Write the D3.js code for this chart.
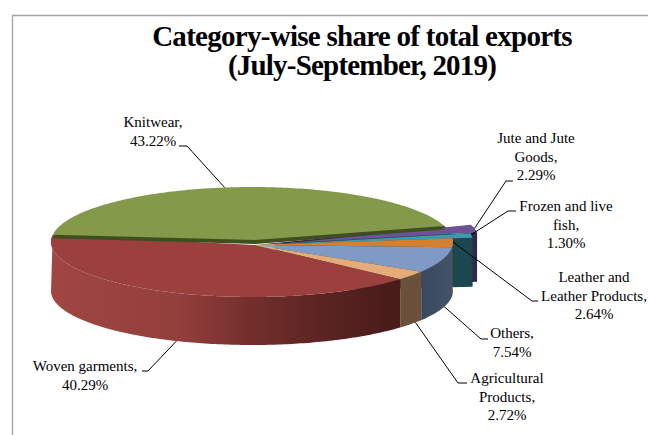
<!DOCTYPE html>
<html>
<head>
<meta charset="utf-8">
<script src="https://cdn.jsdelivr.net/npm/d3@7"></script>
<style>
  html, body { margin: 0; padding: 0; background: #fff; }
  svg { display: block; }
  text { font-family: "Liberation Serif", serif; fill: #000; }
</style>
</head>
<body>
<div id="chart"></div>
<script>
// chart data
var categories = ["Knitwear", "Jute and Jute Goods", "Frozen and live fish", "Leather and Leather Products", "Others", "Agricultural Products", "Woven garments"];
var shares = [43.22, 2.29, 1.30, 2.64, 7.54, 2.72, 40.29];
var shareLabels = ["43.22%", "2.29%", "1.30%", "2.64%", "7.54%", "2.72%", "40.29%"];
var titleLines = ["Category-wise share of total exports", "(July-September, 2019)"];

// how each label wraps
var labelLines = [
  ["Knitwear,", "43.22%"],
  ["Jute and Jute", "Goods,", "2.29%"],
  ["Frozen and live", "fish,", "1.30%"],
  ["Leather and", "Leather Products,", "2.64%"],
  ["Others,", "7.54%"],
  ["Agricultural", "Products,", "2.72%"],
  ["Woven garments,", "40.29%"]
];

// styles per slice
var topColors = ["#84994a", "#6d5395", "#3b9aae", "#d67f2f", "#7f9bc5", "#e5ab78", "#9b403d"];
var wallColors = ["#3d4e20", "#33264a", "#1c4650", "#8a5018", "#3f4f63", "#6b5139", "url(#wovenWall)"];
var explode = [0, 27, 20, 0, 0, 0, 0];

// label layout: x, first baseline, line gap, where the leader leaves the slice
var labelLayout = [
  { x: 153, y: 127, gap: 19, at: 0.48, elbow: [187, 146], end: [179, 146] },
  { x: 536, y: 143, gap: 18.5, at: 0.5, elbow: [506, 181], end: [513, 181] },
  { x: 566, y: 211, gap: 18.5, at: 0.3, elbow: [508, 211], end: [516, 211] },
  { x: 594, y: 282, gap: 18.5, at: 0.42, elbow: [532, 301], end: [538, 301] },
  { x: 512, y: 338, gap: 19, at: 0.42, elbow: [481, 339], end: [488, 339] },
  { x: 507, y: 383, gap: 18.5, at: 0.3, elbow: [458, 383], end: [467, 383] },
  { x: 85, y: 371, gap: 18.5, at: 0.48, elbow: [148, 371], end: [142, 371] }
];

var width = 648, height = 435;

var svg = d3.select("#chart").append("svg")
  .attr("width", width)
  .attr("height", height)
  .attr("viewBox", "0 0 " + width + " " + height);

// chart frame, open at the right and bottom
svg.append("path")
  .attr("d", "M12.5,435V15.5H648")
  .attr("fill", "none")
  .attr("stroke", "#a3a3a3")
  .attr("stroke-width", 1.3);

var defs = svg.append("defs");
var grad = defs.append("linearGradient")
  .attr("id", "wovenWall")
  .attr("gradientUnits", "userSpaceOnUse")
  .attr("x1", 51).attr("x2", 402).attr("y1", 0).attr("y2", 0);
[[0, "#a04643"], [0.36, "#933f3c"], [0.58, "#722e2c"], [0.78, "#5a2422"], [1, "#471b18"]].forEach(function(s) {
  grad.append("stop").attr("offset", s[0]).attr("stop-color", s[1]);
});

var otherGrad = defs.append("linearGradient")
  .attr("id", "othersWall")
  .attr("gradientUnits", "userSpaceOnUse")
  .attr("x1", 425).attr("x2", 452).attr("y1", 0).attr("y2", 0);
otherGrad.append("stop").attr("offset", 0).attr("stop-color", "#3a4a5e");
otherGrad.append("stop").attr("offset", 1).attr("stop-color", "#43546a");

// the tilted disc: unit circle onto the top and bottom ellipses
var xScale = d3.scaleLinear().domain([-1, 1]).range([51, 453]);
var yTop = d3.scaleLinear().domain([-1, 1]).range([187, 297]);
var yBottom = d3.scaleLinear().domain([-1, 1]).range([237, 345]);
var apex = { x: 255, y: 245 };
var apexDepth = 47;

var rotation = -82.5 * Math.PI / 180;
var pie = d3.pie().sort(null).startAngle(rotation).endAngle(rotation + 2 * Math.PI);
var slices = pie(shares);

var line = d3.line().x(function(d) { return d[0]; }).y(function(d) { return d[1]; });

function offsetOf(i, s) {
  var mid = (s.startAngle + s.endAngle) / 2;
  return [explode[i] * Math.sin(mid), -0.2 * explode[i] * Math.cos(mid)];
}

function rim(a, off, scaleY) {
  return [xScale(Math.sin(a)) + off[0], scaleY(-Math.cos(a)) + off[1]];
}

function arcAngles(s) {
  var n = Math.max(2, Math.ceil((s.endAngle - s.startAngle) * 60));
  return d3.range(n + 1).map(function(k) {
    return s.startAngle + (s.endAngle - s.startAngle) * k / n;
  });
}

function topPoints(i, s, apexLift, rimLift) {
  var off = offsetOf(i, s);
  var rimOff = [off[0], off[1] + rimLift];
  return [[apex.x + off[0], apex.y + off[1] + apexLift]].concat(arcAngles(s).map(function(a) { return rim(a, rimOff, yTop); }));
}

// outer rim of a slice, dropped to the bottom ellipse (which stops at its widest point)
function wallPoints(i, s) {
  var off = offsetOf(i, s);
  var angles = arcAngles(s);
  return angles.map(function(a) { return rim(a, off, yTop); })
    .concat(angles.slice().reverse().map(function(a) { return rim(Math.min(a, 1.5 * Math.PI), off, yBottom); }));
}

// cut face at the clockwise end of a pulled-out slice
function facePoints(i, s) {
  var off = offsetOf(i, s);
  return [
    [apex.x + off[0], apex.y + off[1]],
    rim(s.endAngle, off, yTop),
    rim(s.endAngle, off, yBottom),
    [apex.x + off[0], apex.y + off[1] + apexDepth]
  ];
}

var pieG = svg.append("g");

function drawSlice(i) {
  var s = slices[i];
  if (explode[i] > 0) {
    // dark backing so no gap opens behind a pulled-out slice
    var back = [[apex.x, apex.y]].concat(arcAngles(s).map(function(a) { return rim(a, [0, 0], yTop); }));
    pieG.append("path").attr("d", line(back) + "Z").attr("fill", wallColors[i]);
    pieG.append("path").attr("d", line(facePoints(i, s)) + "Z").attr("fill", wallColors[i]);
  }
  if (i > 0) {
    pieG.append("path").attr("d", line(wallPoints(i, s)) + "Z")
      .attr("fill", i === 4 ? "url(#othersWall)" : wallColors[i]);
  }
  if (i === 0) {
    // the knitwear slice sits a little proud of the others
    pieG.append("path").attr("d", line(topPoints(i, s, -1, 3.5)) + "Z").attr("fill", wallColors[i]);
    pieG.append("path").attr("d", line(topPoints(i, s, -5, 0)) + "Z").attr("fill", topColors[i]);
  } else {
    pieG.append("path").attr("d", line(topPoints(i, s, 0, 0)) + "Z").attr("fill", topColors[i]);
  }
}

// back to front
[1, 2, 3, 4, 5, 6, 0].forEach(drawSlice);

// leader lines
slices.forEach(function(s, i) {
  var l = labelLayout[i];
  var a = s.startAngle + (s.endAngle - s.startAngle) * l.at;
  var off = offsetOf(i, s);
  var onTop = i < 4;
  var start = [xScale(Math.sin(a)) + off[0], (onTop ? yTop : yBottom)(-Math.cos(a)) + off[1]];
  svg.append("path")
    .attr("d", line([start, l.elbow, l.end]))
    .attr("fill", "none")
    .attr("stroke", "#000")
    .attr("stroke-width", 1);
});

// labels
labelLines.forEach(function(lines, i) {
  var l = labelLayout[i];
  var t = svg.append("text")
    .attr("text-anchor", "middle")
    .attr("font-size", 15);
  lines.forEach(function(txt, k) {
    t.append("tspan").attr("x", l.x).attr("y", l.y + k * l.gap).text(txt);
  });
});

// title
var titleY = [46, 75];
var titleSpacing = [-0.72, -0.8];
titleLines.forEach(function(txt, k) {
  svg.append("text")
    .attr("x", 362)
    .attr("y", titleY[k])
    .attr("text-anchor", "middle")
    .attr("font-size", 29)
    .attr("font-weight", "bold")
    .attr("letter-spacing", titleSpacing[k])
    .text(txt);
});
</script>
</body>
</html>
